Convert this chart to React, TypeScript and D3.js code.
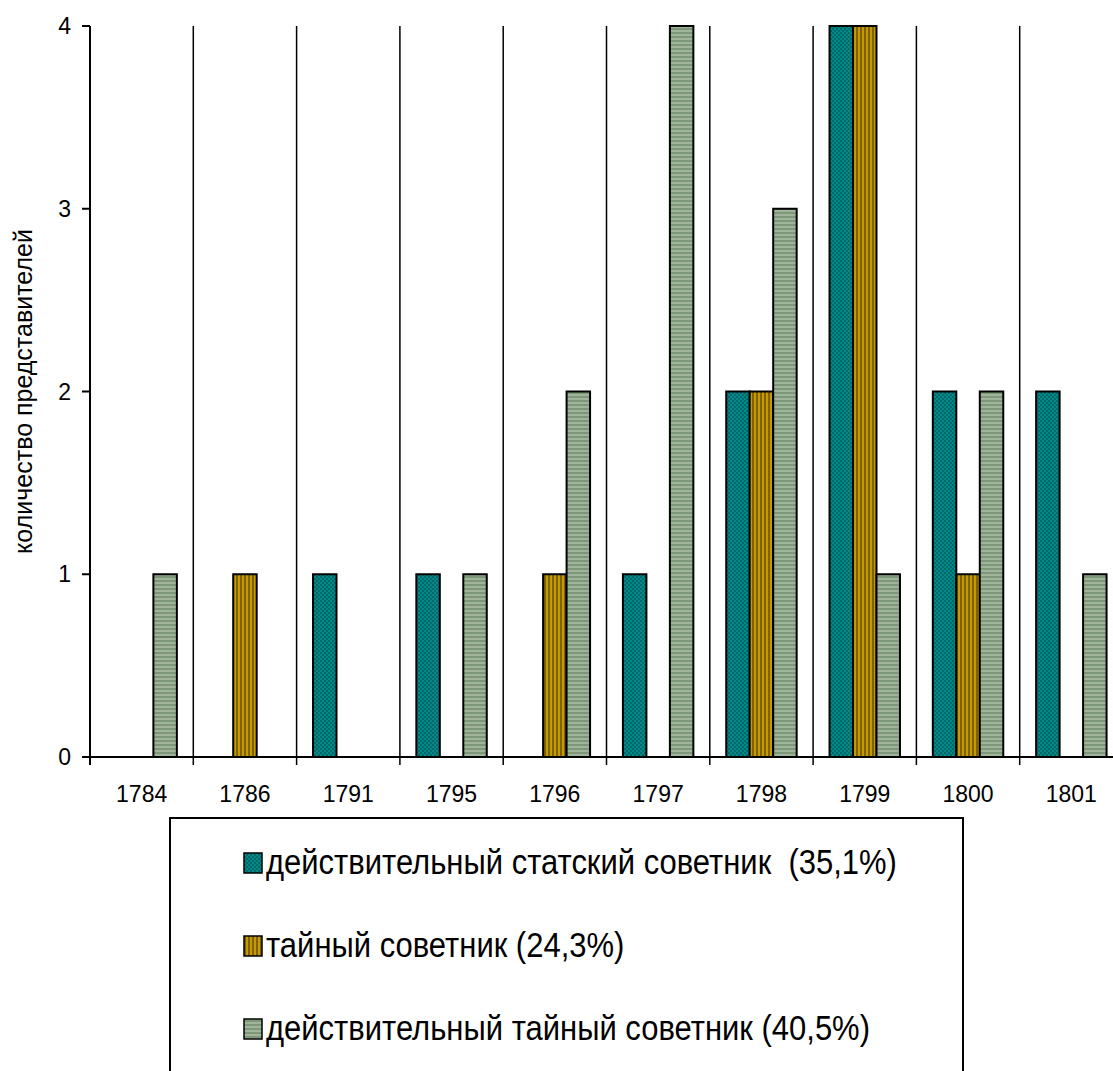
import { scaleBand, scaleLinear } from 'd3';

const years = ['1784', '1786', '1791', '1795', '1796', '1797', '1798', '1799', '1800', '1801'];
const seriesNames = [
  'действительный статский советник\u00a0 (35,1%)',
  'тайный советник (24,3%)',
  'действительный тайный советник (40,5%)',
];
const stateCouncillor = [0, 0, 1, 1, 0, 1, 2, 4, 2, 2];
const privyCouncillor = [0, 1, 0, 0, 1, 0, 2, 4, 1, 0];
const actualPrivyCouncillor = [1, 0, 0, 1, 2, 4, 3, 1, 2, 1];
const yTicks = [0, 1, 2, 3, 4];

const seriesValues = [stateCouncillor, privyCouncillor, actualPrivyCouncillor];
const patternIds = ['pat-teal', 'pat-gold', 'pat-green'];

const width = 1113;
const height = 1071;
const plot = { left: 90, right: 1123, top: 26, bottom: 757 };
const font = 'Arial, "Liberation Sans", sans-serif';

export default function App() {
  const x = scaleBand<string>().domain(years).range([plot.left, plot.right]);
  const inner = scaleBand<number>()
    .domain([0, 1, 2])
    .range([0, x.bandwidth()])
    .paddingOuter(0.7)
    .paddingInner(0);
  const y = scaleLinear().domain([0, 4]).range([plot.bottom, plot.top]);

  const boundaries = years.map(yr => x(yr) ?? 0);

  return (
    <svg
      width={width}
      height={height}
      style={{ position: 'absolute', left: 0, top: 0, display: 'block', background: '#fff' }}
      fontFamily={font}
    >
      <defs>
        <pattern id="pat-teal" width="4" height="4" patternUnits="userSpaceOnUse">
          <rect width="4" height="4" fill="#008a8a" />
          <rect width="2" height="2" fill="#006868" />
          <rect x="2" y="2" width="2" height="2" fill="#006868" />
        </pattern>
        <pattern id="pat-gold" width="4" height="4" patternUnits="userSpaceOnUse">
          <rect width="4" height="4" fill="#c49c00" />
          <rect width="2" height="4" fill="#806000" />
        </pattern>
        <pattern id="pat-green" width="4" height="4" patternUnits="userSpaceOnUse">
          <rect width="4" height="4" fill="#a0b49c" />
          <rect width="4" height="2" fill="#7c9878" />
        </pattern>
      </defs>

      {/* vertical category lines */}
      {boundaries.map((bx, i) => (
        <line key={i} x1={bx} x2={bx} y1={plot.top} y2={plot.bottom + 8} stroke="#000" strokeWidth={i === 0 ? 2 : 1.5} />
      ))}

      {/* bars */}
      {years.map((yr, i) =>
        seriesValues.map((vals, s) => {
          const v = vals[i];
          if (!v) return null;
          const bx = (x(yr) ?? 0) + (inner(s) ?? 0);
          return (
            <rect
              key={`${yr}-${s}`}
              x={bx}
              y={y(v)}
              width={inner.bandwidth()}
              height={y(0) - y(v)}
              fill={`url(#${patternIds[s]})`}
              stroke="#000"
              strokeWidth={2}
            />
          );
        })
      )}

      {/* x axis */}
      <line x1={plot.left} x2={plot.right} y1={plot.bottom} y2={plot.bottom} stroke="#000" strokeWidth={2} />

      {/* y ticks */}
      {yTicks.map(t => (
        <g key={t}>
          <line x1={plot.left - 8} x2={plot.left} y1={y(t)} y2={y(t)} stroke="#000" strokeWidth={2} />
          <text x={71} y={y(t) + 8} textAnchor="end" fontSize={23} fill="#000">
            {t}
          </text>
        </g>
      ))}

      {/* x labels */}
      {years.map(yr => (
        <text key={yr} x={(x(yr) ?? 0) + x.bandwidth() / 2} y={802} textAnchor="middle" fontSize={23} fill="#000">
          {yr}
        </text>
      ))}

      {/* y axis title */}
      <text
        transform={`translate(32, ${(plot.top + plot.bottom) / 2}) rotate(-90)`}
        textAnchor="middle"
        fontSize={25}
        fill="#000"
      >
        количество представителей
      </text>

      {/* legend */}
      <rect x={170} y={818} width={793} height={300} fill="#fff" stroke="#000" strokeWidth={2} />
      {seriesNames.map((name, s) => {
        const cy = 863 + s * 83;
        return (
          <g key={name}>
            <rect x={244} y={cy - 10} width={18} height={20} fill={`url(#${patternIds[s]})`} stroke="#000" strokeWidth={1.5} />
            <g transform={`translate(266, ${cy + 11}) scale(1, 1.15)`}>
              <text x={0} y={0} fontSize={31} fill="#000">
                {name}
              </text>
            </g>
          </g>
        );
      })}
    </svg>
  );
}
